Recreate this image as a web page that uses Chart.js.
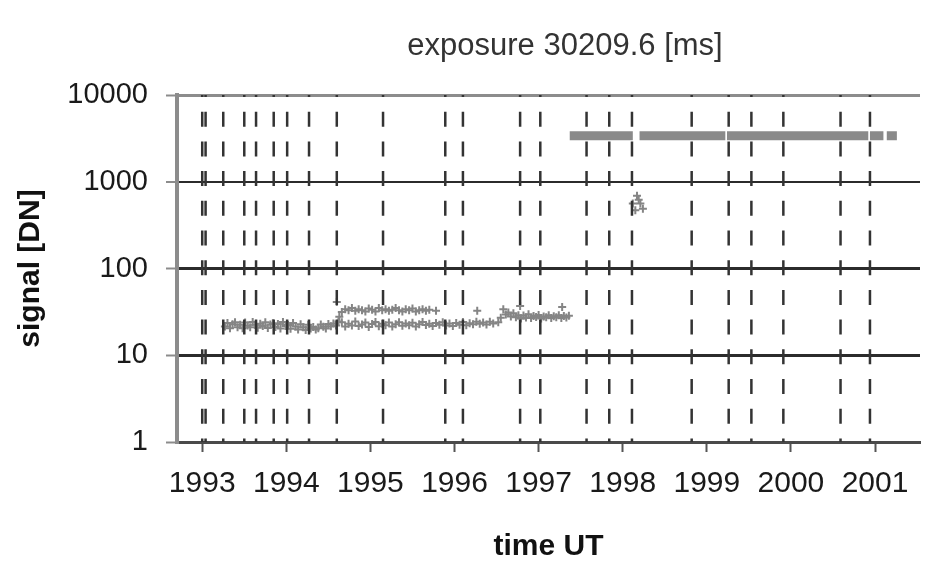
<!DOCTYPE html>
<html>
<head>
<meta charset="utf-8">
<script src="https://cdn.jsdelivr.net/npm/chart.js@4.4.0/dist/chart.umd.min.js"></script>
<style>
  html, body { margin: 0; padding: 0; background: #fff; }
</style>
</head>
<body>
<canvas id="chart" width="950" height="561"></canvas>
<script>
/* globals Chart */

var chartTitle = 'exposure 30209.6 [ms]'
var xTitle = 'time UT'
var yTitle = 'signal [DN]'

var yTicks = [1, 10, 100, 1000, 10000]
var xTicks = [1993, 1994, 1995, 1996, 1997, 1998, 1999, 2000, 2001]

// dashed vertical markers (decimal year)
var eventTimes = [1993.00, 1993.04, 1993.25, 1993.50, 1993.64, 1993.85, 1994.01, 1994.27,
  1994.60, 1995.15, 1995.89, 1996.10, 1996.78, 1997.02, 1997.57, 1997.84, 1998.11,
  1998.82, 1999.26, 1999.53, 1999.91, 2000.59, 2000.94]

// low signal, first stretch
var lowTimesA = [1993.27, 1993.30, 1993.33, 1993.36, 1993.39, 1993.42, 1993.45, 1993.48, 1993.51, 1993.54,
  1993.57, 1993.60, 1993.63, 1993.66, 1993.69, 1993.72, 1993.75, 1993.78, 1993.81, 1993.84,
  1993.87, 1993.90, 1993.93, 1993.96, 1993.99, 1994.02, 1994.05, 1994.08, 1994.11, 1994.14,
  1994.17, 1994.20, 1994.23, 1994.26, 1994.29, 1994.32, 1994.35, 1994.38, 1994.41, 1994.44,
  1994.47, 1994.50, 1994.53, 1994.56, 1994.59, 1994.62]
var lowSignalsA = [21.5, 23.5, 20.5, 22.8, 24.0, 21.0, 22.5, 20.5, 23.8, 22.0,
  21.0, 24.2, 22.4, 20.8, 23.0, 21.7, 24.0, 20.6, 22.6, 23.4,
  21.2, 22.9, 20.4, 24.1, 21.8, 22.3, 20.2, 23.6, 21.4, 19.8,
  22.8, 21.0, 19.5, 22.4, 20.3, 21.2, 19.8, 20.5, 22.6, 21.3,
  20.4, 22.9, 21.6, 23.2, 22.0, 24.5]

// upper branch 1994.6 - 1995.8
var upperTimes = [1994.60, 1994.63, 1994.66, 1994.70, 1994.74, 1994.78, 1994.82, 1994.86, 1994.90, 1994.94,
  1994.98, 1995.02, 1995.06, 1995.10, 1995.14, 1995.18, 1995.22, 1995.26, 1995.30, 1995.34,
  1995.38, 1995.42, 1995.46, 1995.50, 1995.54, 1995.58, 1995.62, 1995.66, 1995.70, 1995.78, 1996.27]
var upperSignals = [41.0, 27.7, 31.6, 34.0, 33.0, 35.0, 32.5, 34.0, 33.0, 32.0,
  34.5, 33.5, 32.0, 35.0, 33.0, 34.0, 32.5, 33.5, 35.0, 33.0,
  32.0, 34.0, 33.0, 34.5, 32.0, 33.0, 34.0, 32.5, 33.5, 32.5, 32.5]

// lower branch 1994.6 - 1996.5
var lowTimesC = [1994.66, 1994.70, 1994.74, 1994.78, 1994.82, 1994.86, 1994.90, 1994.94, 1994.98, 1995.02,
  1995.06, 1995.10, 1995.14, 1995.18, 1995.22, 1995.26, 1995.30, 1995.34, 1995.38, 1995.42,
  1995.46, 1995.50, 1995.54, 1995.58, 1995.62, 1995.66, 1995.70, 1995.74, 1995.78, 1995.82,
  1995.86, 1995.90, 1995.94, 1995.98, 1996.02, 1996.06, 1996.10, 1996.14, 1996.18, 1996.22,
  1996.26, 1996.30, 1996.34, 1996.38, 1996.42, 1996.46, 1996.52]
var lowSignalsC = [24.0, 21.5, 23.0, 22.0, 24.5, 21.8, 22.6, 23.8, 21.2, 22.9,
  24.2, 21.6, 23.1, 22.2, 23.9, 21.4, 22.7, 24.0, 21.9, 23.3,
  22.1, 23.7, 21.5, 22.8, 24.1, 22.3, 23.0, 21.7, 23.5, 22.4,
  24.0, 22.0, 23.2, 21.8, 23.6, 22.5, 24.2, 22.2, 23.4, 22.8,
  24.3, 23.0, 23.8, 22.6, 24.4, 23.2, 24.0]

// 1996.5 - 1997.4
var lowTimesD = [1996.55, 1996.58, 1996.61, 1996.64, 1996.67, 1996.70, 1996.73, 1996.76, 1996.78, 1996.79,
  1996.82, 1996.85, 1996.88, 1996.91, 1996.94, 1996.97, 1997.00, 1997.03, 1997.06, 1997.09,
  1997.12, 1997.15, 1997.18, 1997.21, 1997.24, 1997.27, 1997.28, 1997.30, 1997.33, 1997.36]
var lowSignalsD = [27.0, 34.0, 29.5, 31.0, 28.0, 30.5, 27.5, 29.0, 37.0, 26.5,
  28.8, 27.2, 29.6, 26.8, 28.4, 27.6, 29.2, 26.6, 28.0, 27.4,
  29.0, 26.9, 28.2, 27.5, 28.9, 26.8, 36.0, 28.3, 27.2, 28.6]

// short excursion near 1998.15
var midTimes = [1998.12, 1998.15, 1998.17, 1998.19, 1998.21, 1998.24]
var midSignals = [560, 470, 690, 620, 560, 490]

// high level plateau, drawn as segments
var highStarts = [1997.37, 1998.20, 1999.24, 2000.94, 2001.14]
var highEnds = [1998.12, 1999.22, 2000.92, 2001.10, 2001.26]
var highLevel = 3400

var markerGray = '#858585'
var textFont = '"Liberation Sans", Arial, sans-serif'

function zipPoints(xs, ys) {
  return xs.map(function (x, i) { return { x: x, y: ys[i] } })
}

var datasets = []

eventTimes.forEach(function (t) {
  datasets.push({
    type: 'line',
    data: [{ x: t, y: yTicks[yTicks.length - 1] }, { x: t, y: yTicks[0] }],
    borderColor: '#333',
    borderWidth: 2.5,
    borderDash: [15, 14.7],
    borderDashOffset: 13,
    pointRadius: 0,
    fill: false
  })
})

var highPoints = []
highStarts.forEach(function (s, i) {
  highPoints.push({ x: s, y: highLevel }, { x: highEnds[i], y: highLevel })
  highPoints.push({ x: highEnds[i], y: null })
})
datasets.push({
  type: 'line',
  data: highPoints,
  borderColor: '#8a8a8a',
  borderWidth: 9,
  spanGaps: false,
  pointRadius: 0,
  fill: false
})

var scatterSets = [
  zipPoints(lowTimesA, lowSignalsA),
  zipPoints(upperTimes, upperSignals),
  zipPoints(lowTimesC, lowSignalsC),
  zipPoints(lowTimesD, lowSignalsD),
  zipPoints(midTimes, midSignals)
]
scatterSets.forEach(function (pts) {
  datasets.push({
    type: 'scatter',
    data: pts,
    pointStyle: 'cross',
    pointRadius: 4,
    pointBorderWidth: 2,
    borderColor: markerGray,
    backgroundColor: markerGray,
    showLine: false
  })
})

var titlePlugin = {
  id: 'topTitle',
  afterDraw: function (chart) {
    var ctx = chart.ctx
    ctx.save()
    ctx.font = '31px ' + textFont
    ctx.fillStyle = '#333'
    ctx.textAlign = 'center'
    ctx.textBaseline = 'middle'
    ctx.fillText(chartTitle, 565, 46)
    ctx.restore()
  }
}

var chart = new Chart(document.getElementById('chart'), {
  type: 'scatter',
  data: { datasets: datasets },
  plugins: [titlePlugin],
  options: {
    responsive: false,
    animation: false,
    events: [],
    layout: { padding: { top: 95, right: 30, left: 0, bottom: 0 } },
    plugins: {
      legend: { display: false },
      tooltip: { enabled: false },
      title: { display: false }
    },
    scales: {
      x: {
        type: 'linear',
        min: 1992.70,
        max: 2001.535,
        afterBuildTicks: function (scale) {
          scale.ticks = xTicks.map(function (v) { return { value: v } })
        },
        afterFit: function (scale) { scale.height = 119 },
        ticks: {
          padding: 14,
          autoSkip: false,
          maxRotation: 0,
          color: '#1a1a1a',
          font: { family: textFont, size: 30 },
          callback: function (v) { return String(v) }
        },
        grid: {
          drawOnChartArea: false,
          drawTicks: true,
          tickLength: 10,
          tickColor: '#555',
          tickWidth: 2
        },
        border: { display: true, color: '#4a4a4a', width: 3 },
        title: {
          display: true,
          text: xTitle,
          color: '#111',
          font: { family: textFont, size: 30, weight: 'bold', lineHeight: 0.85 },
          padding: { top: 0, bottom: 2 }
        }
      },
      y: {
        type: 'logarithmic',
        min: 1,
        max: 10000,
        afterBuildTicks: function (scale) {
          scale.ticks = yTicks.map(function (v) { return { value: v } })
        },
        afterFit: function (scale) { scale.width = 177 },
        ticks: {
          padding: 18,
          color: '#1a1a1a',
          font: { family: textFont, size: 29 },
          callback: function (v) { return String(v) }
        },
        grid: {
          color: function (c) {
            return c.tick && c.tick.value === 10000 ? '#8c8c8c' : '#2b2b2b'
          },
          lineWidth: function (c) {
            return c.tick && c.tick.value === 1000 ? 2 : 3
          },
          tickLength: 11,
          tickColor: '#8c8c8c',
          tickWidth: 2
        },
        border: { display: true, color: '#8c8c8c', width: 4 },
        title: {
          display: true,
          text: yTitle,
          color: '#111',
          font: { family: textFont, size: 30, weight: 'bold' },
          padding: { top: 13, bottom: 0 }
        }
      }
    }
  }
})
</script>
</body>
</html>
